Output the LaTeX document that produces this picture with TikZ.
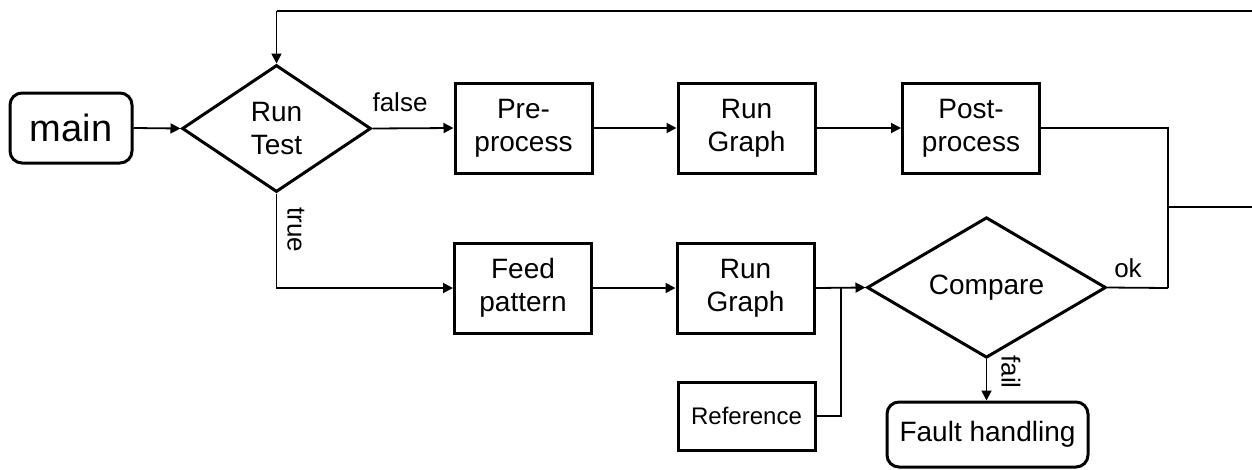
\documentclass[tikz,border=0pt]{standalone}
\usepackage{fontspec}
\setmainfont{Liberation Sans}
\usetikzlibrary{shapes.geometric,arrows.meta}
\begin{document}
\begin{tikzpicture}[x=1pt,y=-1pt,
  boxnode/.style={draw,line width=3pt,minimum width=137pt,minimum height=90pt,inner sep=0pt,align=center,font=\fontsize{28}{33}\selectfont},
  roundnode/.style={draw,line width=3pt,rounded corners=12pt,inner sep=0pt,align=center},
  decnode/.style={draw,diamond,line width=3pt,inner sep=0pt,align=center,font=\fontsize{28}{33}\selectfont},
  conn/.style={line width=1.8pt},
  arr/.style={conn,-{Triangle[length=10pt,width=10pt]}},
  lbl/.style={font=\fontsize{26}{30}\selectfont,inner sep=0pt}]
\useasboundingbox (0,0) rectangle (1252,469);
\node[roundnode,minimum width=122pt,minimum height=70pt,font=\fontsize{38}{44}\selectfont] (main) at (71,128) {main};
\node[decnode,minimum width=189pt,minimum height=127pt] (runtest) at (276.5,128.5) {Run\\Test};
\node[boxnode] (pre) at (523.5,128) {Pre-\\process};
\node[boxnode] (rg1) at (746.5,128) {Run\\Graph};
\node[boxnode] (post) at (971,128) {Post-\\process};
\node[boxnode] (feed) at (523,288) {Feed\\pattern};
\node[boxnode] (rg2) at (745.5,288) {Run\\Graph};
\node[decnode,minimum width=239pt,minimum height=125pt] (compare) at (986.5,287.5) {Compare};
\node[boxnode,minimum height=68pt,font=\fontsize{24}{28}\selectfont] (ref) at (746.5,416) {Reference};
\node[roundnode,minimum width=201pt,minimum height=65pt,font=\fontsize{28}{33}\selectfont] (fault) at (987.5,434.5) {Fault handling};
\coordinate (jr) at (1168,288);
\coordinate (jt) at (1168,207);
\coordinate (er) at (1256,207);
\coordinate (etop) at (1256,11);
\coordinate (ltop) at (276.5,11);
\coordinate (jm) at (841,288);
\draw[arr] (main.east) -- (runtest.west);
\draw[arr] (runtest.east) -- (pre.west);
\node[lbl,anchor=base] (lfalse) at (400,111) {false};
\draw[arr] (pre.east) -- (rg1.west);
\draw[arr] (rg1.east) -- (post.west);
\draw[conn] (post.east) -| (jr);
\draw[conn] (compare.east) -- (jr);
\node[lbl,anchor=base] (lok) at (1128,277) {ok};
\draw[conn] (jt) -- (er) -- (etop) -- (ltop);
\draw[arr] (ltop) -- (runtest.north);
\draw[arr] (runtest.south) |- (feed.west);
\node[lbl,rotate=-90] (ltrue) at (296,230) {true};
\draw[arr] (feed.east) -- (rg2.west);
\draw[arr] (rg2.east) -- (compare.west);
\draw[conn] (ref.east) -| (jm);
\draw[arr] (compare.south) -- (compare.south |- fault.north);
\node[lbl,rotate=-90] (lfail) at (1011,372) {fail};
\end{tikzpicture}
\end{document}
